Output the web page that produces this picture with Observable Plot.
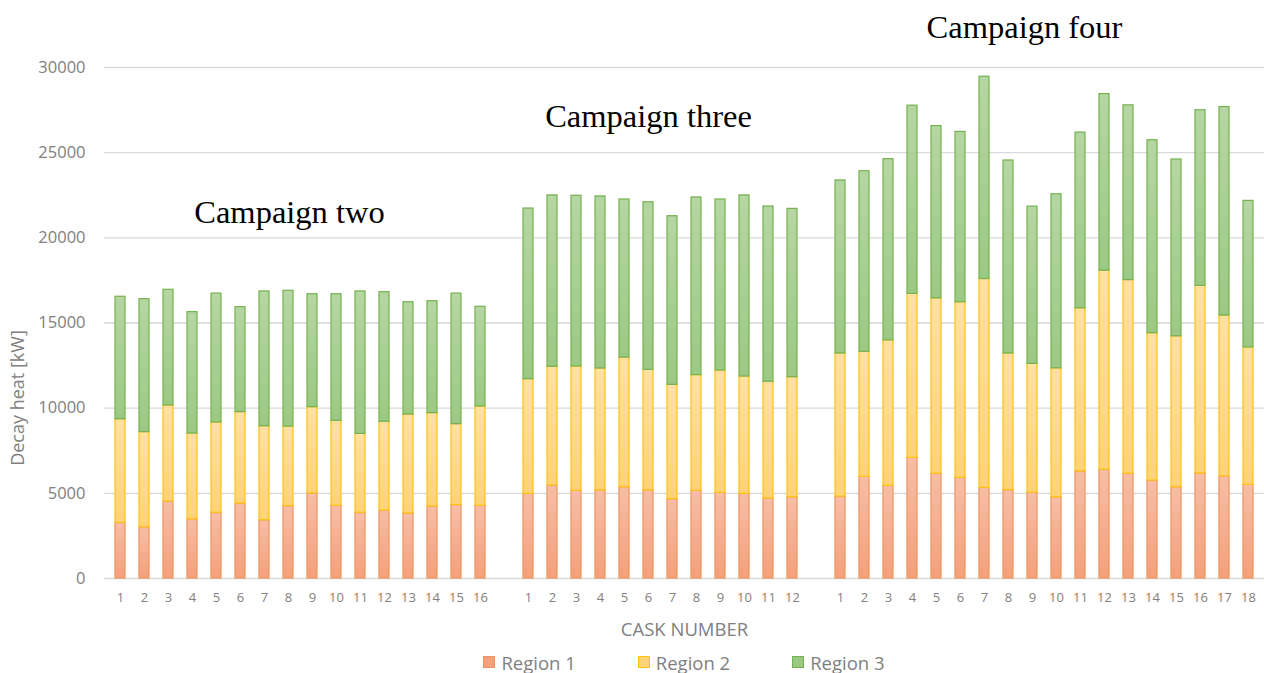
<!DOCTYPE html>
<html>
<head>
<meta charset="utf-8">
<script src="https://cdn.jsdelivr.net/npm/d3@7"></script>
<script src="https://cdn.jsdelivr.net/npm/@observablehq/plot@0.6"></script>
<style>
  html, body { margin: 0; padding: 0; background: #fff; }
  #chart { width: 1264px; }
  .legend { box-sizing: border-box; width: 1264px; display: flex; justify-content: center; gap: 62px; font-family: "Open Sans", sans-serif; font-size: 18.5px; color: #7f7f7f; height: 34px; align-items: center; padding-left: 104px; }
  .legend span.item { display: flex; align-items: center; }
  .legend i { display: inline-block; width: 12px; height: 12px; margin-right: 6px; box-sizing: border-box; border: 1px solid; }
</style>
</head>
<body>
<div id="chart"></div>
<script>
// ---- data (kW) ----
const regions = ["Region 1", "Region 2", "Region 3"];
const campaignNames = ["Campaign two", "Campaign three", "Campaign four"];
const campaignIds = ["2", "3", "4"];

const c2_region1 = [3270,3010,4520,3480,3860,4400,3420,4250,4990,4270,3860,3990,3820,4230,4310,4270];
const c2_region2 = [6080,5580,5640,5030,5300,5370,5520,4670,5070,4990,4630,5210,5810,5480,4750,5830];
const c2_region3 = [7190,7810,6790,7130,7570,6160,7910,7970,6630,7430,8360,7610,6590,6570,7670,5850];

const c3_region1 = [4970,5460,5150,5170,5360,5170,4660,5150,5030,4970,4700,4770];
const c3_region2 = [6730,6970,7300,7160,7610,7080,6710,6790,7180,6890,6850,7050];
const c3_region3 = [10020,10060,10020,10100,9280,9840,9900,10430,10040,10630,10290,9880];

const c4_region1 = [4810,5970,5440,7080,6150,5910,5320,5180,5040,4770,6290,6390,6150,5750,5360,6170,5990,5500];
const c4_region2 = [8400,7340,8540,9630,10300,10310,12260,8030,7560,7570,9570,11680,11370,8650,8860,11010,9450,8070];
const c4_region3 = [10160,10600,10640,11050,10110,10000,11880,11330,9230,10220,10320,10370,10260,11330,10380,10310,12240,8600];

const yTicks = [0, 5000, 10000, 15000, 20000, 25000, 30000];
const titleY = [21500, 27100, 32350];
const titleCask = [8, 6, 9];

// ---- build table ----
const campaignData = [
  [c2_region1, c2_region2, c2_region3],
  [c3_region1, c3_region2, c3_region3],
  [c4_region1, c4_region2, c4_region3]
];
const rows = [];
const xDomain = [];
campaignData.forEach((series, ci) => {
  if (ci > 0) xDomain.push("gap" + ci);
  series[0].forEach((v, i) => {
    const key = campaignIds[ci] + "-" + (i + 1);
    xDomain.push(key);
    let base = 0;
    regions.forEach((r, ri) => {
      const val = series[ri][i];
      rows.push({key, region: r, y1: base, y2: base + val});
      base += val;
    });
  });
});

const fills = {"Region 1": "url(#gr1)", "Region 2": "url(#gr2)", "Region 3": "url(#gr3)"};
const strokes = {"Region 1": "#f0915f", "Region 2": "#ffc20e", "Region 3": "#74b151"};
const titleDx = [1, 0, -8];

const marks = [
  Plot.ruleY(yTicks, {stroke: "#d9d9d9", strokeWidth: 1.3}),
  ...regions.map(r => Plot.rectY(rows.filter(d => d.region === r), {
    x: "key", y1: "y1", y2: "y2", fill: fills[r], stroke: strokes[r], strokeWidth: 1.2
  })),
  Plot.axisY({ticks: yTicks, tickSize: 0, tickPadding: 19, tickFormat: d => String(d), fontSize: 16.5, label: null, color: "#808080"}),
  Plot.axisX({tickSize: 0, tickPadding: 14, tickFormat: d => d.startsWith("gap") ? "" : d.split("-")[1], fontSize: 13, label: null, color: "#808080"}),
  Plot.text(["Decay heat [kW]"], {frameAnchor: "left", textAnchor: "middle", lineAnchor: "middle", dx: -86, dy: 75, rotate: -90, fontSize: 18, fill: "#808080"}),
  Plot.text(["CASK NUMBER"], {frameAnchor: "bottom", lineAnchor: "middle", dy: 52, fontSize: 18.5, fill: "#808080"}),
  ...campaignNames.map((t, i) => Plot.text([t], {
    x: [campaignIds[i] + "-" + titleCask[i]], y: [titleY[i]], dx: titleDx[i],
    fontSize: 32.5, fontFamily: "Liberation Serif, Times New Roman, serif", fill: "#000"
  }))
];

const plot = Plot.plot({
  width: 1264,
  height: 645,
  marginTop: 67,
  marginBottom: 67,
  marginLeft: 104,
  marginRight: 0,
  style: {fontFamily: "Open Sans, sans-serif", background: "#fff", overflow: "visible"},
  x: {type: "band", domain: xDomain, paddingInner: 0.57, paddingOuter: 0.285, axis: null},
  y: {domain: [0, 30000], axis: null},
  marks
});

const defs = d3.select(plot).insert("defs", ":first-child");
const grads = [["gr1", "#f6bea5", "#f4a07b"], ["gr2", "#fee0a2", "#fdd378"], ["gr3", "#b5d6a3", "#9bc983"]];
grads.forEach(([id, top, bot]) => {
  const g = defs.append("linearGradient").attr("id", id).attr("x1", 0).attr("y1", 0).attr("x2", 0).attr("y2", 1);
  g.append("stop").attr("offset", "0%").attr("stop-color", top);
  g.append("stop").attr("offset", "100%").attr("stop-color", bot);
});

document.getElementById("chart").appendChild(plot);

const legend = document.createElement("div");
legend.className = "legend";
regions.forEach((r, i) => {
  const item = document.createElement("span");
  item.className = "item";
  const sw = document.createElement("i");
  sw.style.background = grads[i][2];
  sw.style.borderColor = strokes[r];
  item.appendChild(sw);
  item.appendChild(document.createTextNode(r));
  legend.appendChild(item);
});
document.getElementById("chart").appendChild(legend);
</script>
</body>
</html>
